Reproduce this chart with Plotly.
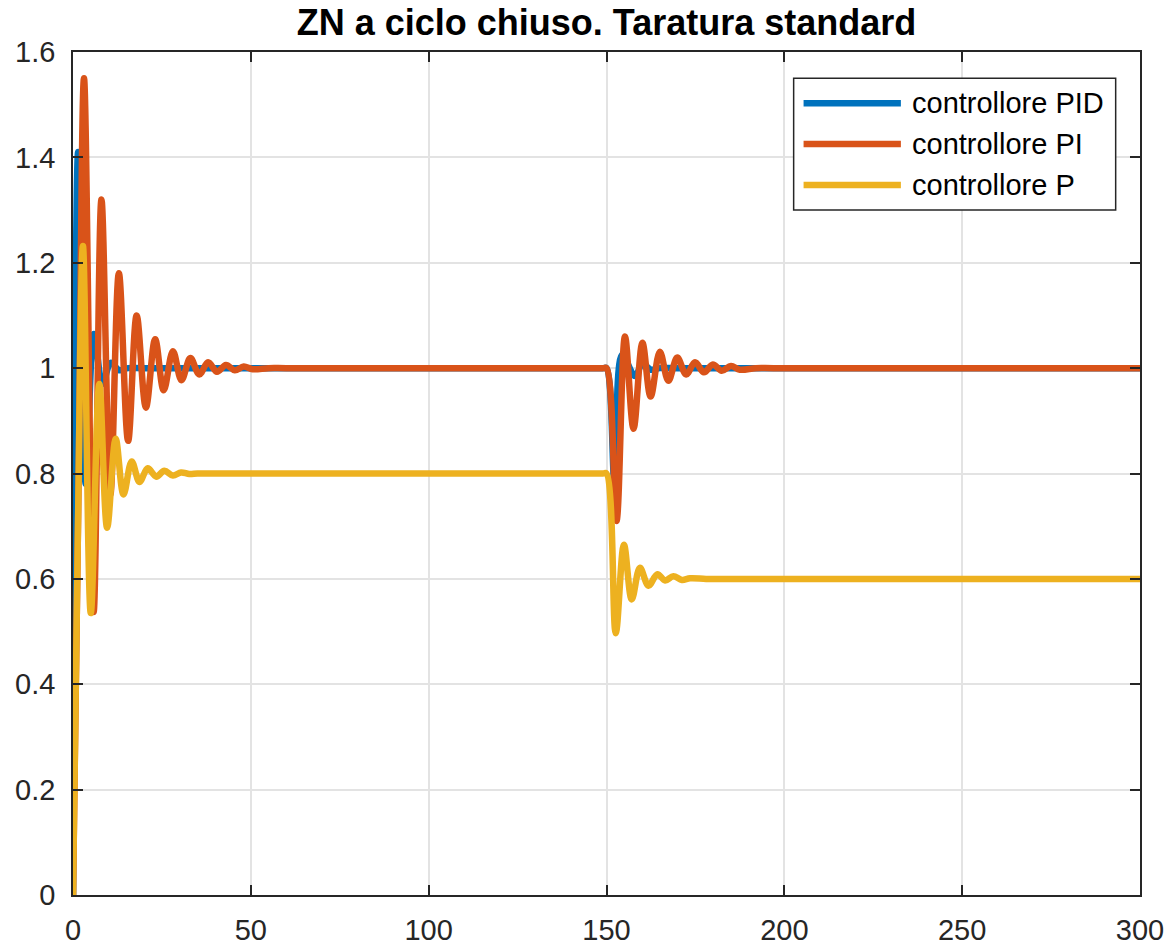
import plotly.graph_objects as go

# Risposte al gradino: tempo / uscita
T_PID = [0, 0.5, 1.45, 3.6, 5.9, 8.3, 10.6, 13.0, 15.5, 20, 149, 150.0, 152.3, 154.4, 158.0,
         160.1, 162.5, 165, 170, 300]
Y_PID = [0, 0.9, 1.41, 0.78, 1.065, 0.97, 1.01, 0.996, 1.0, 1.0, 1.0, 1.0, 0.78, 1.025, 0.985,
         1.008, 0.997, 1.0, 1.0, 1.0]

T_PI = [0, 1.6, 3.1, 5.8, 8.0, 10.5, 12.9, 15.5, 17.9, 20.5, 23.1, 25.5, 28.1, 30.5, 33.0,
        35.5, 38.0, 40.5, 43.0, 45.5, 48.0, 50.5, 55, 60, 149, 150.0, 152.8, 155.2, 157.6,
        160.1, 162.4, 165.0, 167.4, 169.9, 172.4, 174.9, 177.4, 179.9, 182.4, 185.0, 187.5,
        192, 197, 300]
Y_PI = [0, 0.8, 1.55, 0.537, 1.32, 0.76, 1.18, 0.862, 1.1, 0.925, 1.055, 0.958, 1.032, 0.977,
        1.019, 0.988, 1.011, 0.993, 1.006, 0.996, 1.003, 0.998, 1.0, 1.0, 1.0, 1.0, 0.71, 1.06,
        0.885, 1.048, 0.946, 1.031, 0.976, 1.02, 0.988, 1.011, 0.992, 1.007, 0.995, 1.004,
        0.997, 1.0, 1.0, 1.0]

T_P = [0, 1.3, 2.8, 5.0, 7.4, 9.6, 12.0, 14.2, 16.5, 18.7, 21.0, 23.4, 25.7, 28.1, 30.4,
       32.7, 35, 40, 149, 150.0, 152.6, 154.9, 157.1, 159.4, 161.8, 164.3, 166.5, 168.8, 171.2,
       173.5, 178, 183, 300]
Y_P = [0, 0.65, 1.232, 0.535, 0.97, 0.697, 0.866, 0.76, 0.823, 0.784, 0.81, 0.794, 0.805,
       0.796, 0.802, 0.799, 0.8, 0.8, 0.8, 0.8, 0.497, 0.665, 0.561, 0.621, 0.587, 0.609, 0.597,
       0.605, 0.598, 0.601, 0.6, 0.6, 0.6]

SERIES_NAMES = ["controllore PID", "controllore PI", "controllore P"]
SERIES_COLORS = ["#0072BD", "#D95319", "#EDB120"]

X_TICKS = [0, 50, 100, 150, 200, 250, 300]
Y_TICKS = [0, 0.2, 0.4, 0.6, 0.8, 1.0, 1.2, 1.4, 1.6]
Y_TICK_LABELS = ["0", "0.2", "0.4", "0.6", "0.8", "1", "1.2", "1.4", "1.6"]

TITLE = "ZN a ciclo chiuso. Taratura standard"
FONT = "Liberation Sans"
AXIS_COLOR = "#262626"
LINE_W = 6.5

fig = go.Figure()
for t, y, name, color in zip([T_PID, T_PI, T_P], [Y_PID, Y_PI, Y_P], SERIES_NAMES, SERIES_COLORS):
    fig.add_trace(go.Scatter(
        x=t, y=y, name=name, mode="lines",
        line=dict(color=color, width=LINE_W, shape="spline", smoothing=1),
        showlegend=False,
    ))

axis_style = dict(
    ticks="inside", ticklen=10, tickwidth=1.5, tickcolor=AXIS_COLOR,
    showline=True, linecolor=AXIS_COLOR, linewidth=1.5, mirror="ticks",
    showgrid=True, gridcolor="#e3e3e3", gridwidth=1.5, zeroline=False,
    automargin=False,
    tickfont=dict(family=FONT, size=29, color=AXIS_COLOR),
)
fig.update_xaxes(range=[0, 300], tickvals=X_TICKS, ticklabelstandoff=8, **axis_style)
fig.update_yaxes(range=[0, 1.6], tickvals=Y_TICKS, ticktext=Y_TICK_LABELS,
                 ticklabelstandoff=10, **axis_style)

# legenda disegnata a mano (box + campioni di linea lunghi come in MATLAB)
leg_x0, leg_x1, leg_y0, leg_y1 = 0.6754, 0.9772, 0.8126, 0.9688
row_y = [0.9391, 0.8909, 0.8422]
fig.add_shape(type="rect", xref="paper", yref="paper", x0=leg_x0, x1=leg_x1, y0=leg_y0,
              y1=leg_y1, line=dict(color=AXIS_COLOR, width=1.5), fillcolor="white", layer="above")
for name, color, ry in zip(SERIES_NAMES, SERIES_COLORS, row_y):
    fig.add_shape(type="line", xref="paper", yref="paper", x0=0.6847, x1=0.7759, y0=ry, y1=ry,
                  line=dict(color=color, width=LINE_W), layer="above")
    fig.add_annotation(xref="paper", yref="paper", x=0.7846, y=ry, text=name, showarrow=False,
                       xanchor="left", yanchor="middle",
                       font=dict(family=FONT, size=29, color="black"))

fig.update_layout(
    width=1173, height=946,
    margin=dict(l=73, r=33, t=52, b=51),
    paper_bgcolor="white", plot_bgcolor="white",
    title=dict(text=f"<b>{TITLE}</b>", x=0.5, xref="paper", y=1 - 22 / 946, yref="container",
               xanchor="center", yanchor="middle",
               font=dict(family=FONT, size=36, color="black")),
)

fig.write_html("out.html", config={"displayModeBar": False},
               post_script="document.body.style.margin='0';")
